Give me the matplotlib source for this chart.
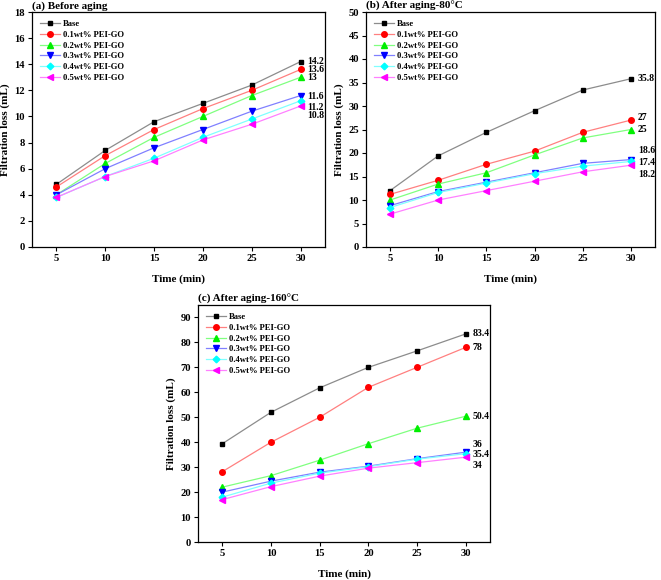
import matplotlib
matplotlib.use("Agg")
import matplotlib.pyplot as plt

plt.rcParams['font.family'] = ['Liberation Serif', 'DejaVu Serif']
plt.rcParams['font.weight'] = 'bold'
plt.rcParams['axes.labelweight'] = 'bold'

time = [5, 10, 15, 20, 25, 30]
series_names = ["Base", "0.1wt% PEI-GO", "0.2wt% PEI-GO", "0.3wt% PEI-GO",
                "0.4wt% PEI-GO", "0.5wt% PEI-GO"]

before = [
    [4.8, 7.4, 9.6, 11.0, 12.4, 14.2],
    [4.6, 7.0, 9.0, 10.6, 12.0, 13.6],
    [4.0, 6.4, 8.4, 10.0, 11.6, 13.0],
    [4.0, 6.0, 7.6, 9.0, 10.4, 11.6],
    [3.8, 5.4, 6.8, 8.4, 9.8, 11.2],
    [3.8, 5.4, 6.6, 8.2, 9.4, 10.8],
]
aged80 = [
    [12.0, 19.4, 24.4, 29.0, 33.4, 35.8],
    [11.2, 14.2, 17.6, 20.4, 24.4, 27.0],
    [10.0, 13.4, 15.8, 19.6, 23.2, 25.0],
    [8.8, 11.8, 13.8, 15.8, 17.8, 18.6],
    [8.4, 11.6, 13.6, 15.6, 17.2, 18.2],
    [7.0, 10.0, 12.0, 14.0, 16.0, 17.4],
]
aged160 = [
    [39.4, 52.0, 61.8, 70.0, 76.6, 83.4],
    [28.2, 40.0, 50.0, 62.0, 70.0, 78.0],
    [22.0, 26.6, 32.8, 39.4, 45.6, 50.4],
    [20.0, 24.4, 28.0, 30.4, 33.4, 36.0],
    [18.0, 23.6, 27.6, 30.2, 33.2, 35.4],
    [17.0, 22.2, 26.4, 29.6, 31.8, 34.0],
]

labels_a = ["14.2", "13.6", "13", "11.6", "11.2", "10.8"]
labels_b = ["35.8", "27", "25", "18.6", "17.4", "18.2"]
labels_c = ["83.4", "78", "50.4", "36", "35.4", "34"]

titles = ["(a) Before aging", "(b) After aging-80°C", "(c) After aging-160°C"]

markers = ['s', 'o', '^', 'v', 'D', '<']
mcolors = ['#000000', '#ff0000', '#00ee00', '#0000ff', '#00ffff', '#ff00ff']
lcolors = ['#8c8c8c', '#ff8080', '#80ff80', '#8080ff', '#80ffff', '#ff80ff']
msizes = [3.4, 4.0, 4.0, 4.0, 3.4, 4.0]

W, H = 661, 580
fig = plt.figure(figsize=(W / 100, H / 100), dpi=100)

def rect(l, t, r, b):
    return [l / W, 1 - b / H, (r - l) / W, (b - t) / H]

ax_a = fig.add_axes(rect(32, 12, 325, 247))
ax_b = fig.add_axes(rect(366, 12, 655, 247))
ax_c = fig.add_axes(rect(198, 305, 490, 542))

def draw(ax, data, labels, ylim, yticks, title, offsets):
    for i, ys in enumerate(data):
        ax.plot(time, ys, color=lcolors[i], lw=0.9, marker=markers[i],
                markersize=msizes[i], markerfacecolor=mcolors[i],
                markeredgecolor=mcolors[i], label=series_names[i])
        ax.annotate(labels[i], (time[-1], ys[-1]), xytext=(5, offsets[i]),
                    textcoords='offset points', fontsize=7, fontweight='bold',
                    va='center', ha='left', annotation_clip=False)
    ax.set_xlim(2.5, 32.5)
    ax.set_ylim(*ylim)
    ax.set_xticks(time)
    ax.set_yticks(yticks)
    ax.tick_params(direction='out', length=3, width=0.8, labelsize=7.6, pad=2)
    for s in ax.spines.values():
        s.set_linewidth(0.9)
    ax.set_xlabel("Time (min)", fontsize=8, fontweight='bold', labelpad=8)
    ax.set_ylabel("Filtration loss (mL)", fontsize=8, fontweight='bold', labelpad=3)
    ax.text(0.0, 1.005, title, transform=ax.transAxes, fontsize=8,
            fontweight='bold', ha='left', va='bottom')
    ax.legend(loc='upper left', frameon=False, fontsize=6.2,
              handlelength=2.4, handletextpad=0.3, labelspacing=0.33,
              borderaxespad=0.5, bbox_to_anchor=(0.0, 1.0))

draw(ax_a, before, labels_a, (0, 18), range(0, 19, 2), titles[0],
     [0, 0, 0, -0.5, -4.5, -6.5])
draw(ax_b, aged80, labels_b, (0, 50), range(0, 51, 5), titles[1],
     [0, 2, 0, 6.5, -1, -6.5])
draw(ax_c, aged160, labels_c, (0, 95), range(0, 91, 10), titles[2],
     [0, 0, 0, 5.3, -0.7, -5.8])

fig.savefig("out.png", dpi=100)
